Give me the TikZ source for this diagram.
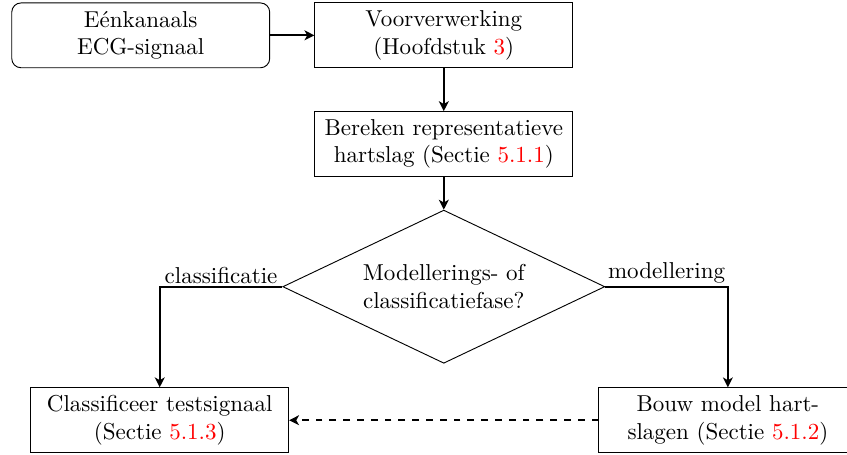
\documentclass[tikz,border=0pt]{standalone}
\usetikzlibrary{shapes.geometric,arrows.meta}

\begin{document}
\begin{tikzpicture}[box/.style={draw,align=center,minimum width=3.94cm,minimum height=0.99cm},
    conn/.style={thick,-{Stealth[length=4.3pt,width=4.3pt,inset=1.2pt]}}]
      \useasboundingbox (0,0) rectangle (12.94,-6.94);

      \node[box,rounded corners] (input) at (2.15,-0.54) {Eénkanaals\\ECG-signaal};
      \node[box] (voor) at (6.78,-0.54) {Voorverwerking\\(Hoofdstuk \textcolor{red}{3})};
      \node[box] (rep) at (6.78,-2.20) {Bereken representatieve\\hartslag (Sectie \textcolor{red}{5.1.1})};
      \node[draw,diamond,aspect=2,inner sep=0pt,minimum width=4.92cm,minimum height=2.34cm,align=center]
        (fase) at (6.78,-4.38) {Modellerings- of\\classificatiefase?};
      \node[box] (classif) at (2.44,-6.42) {Classificeer testsignaal\\(Sectie \textcolor{red}{5.1.3})};
      \node[box] (model) at (11.12,-6.42) {Bouw model hart-\\slagen (Sectie \textcolor{red}{5.1.2})};

      \draw[conn] (input) -- (voor);
      \draw[conn] (voor) -- (rep);
      \draw[conn] (rep) -- (fase);
      \draw[conn] (fase.west) -| node[pos=0.25,above,inner sep=1pt] {classificatie} (classif.north);
      \draw[conn] (fase.east) -| node[pos=0.25,above,inner sep=1pt] {modellering} (model.north);
      \draw[conn,dashed] (model) -- (classif);
    \end{tikzpicture}
\end{document}
